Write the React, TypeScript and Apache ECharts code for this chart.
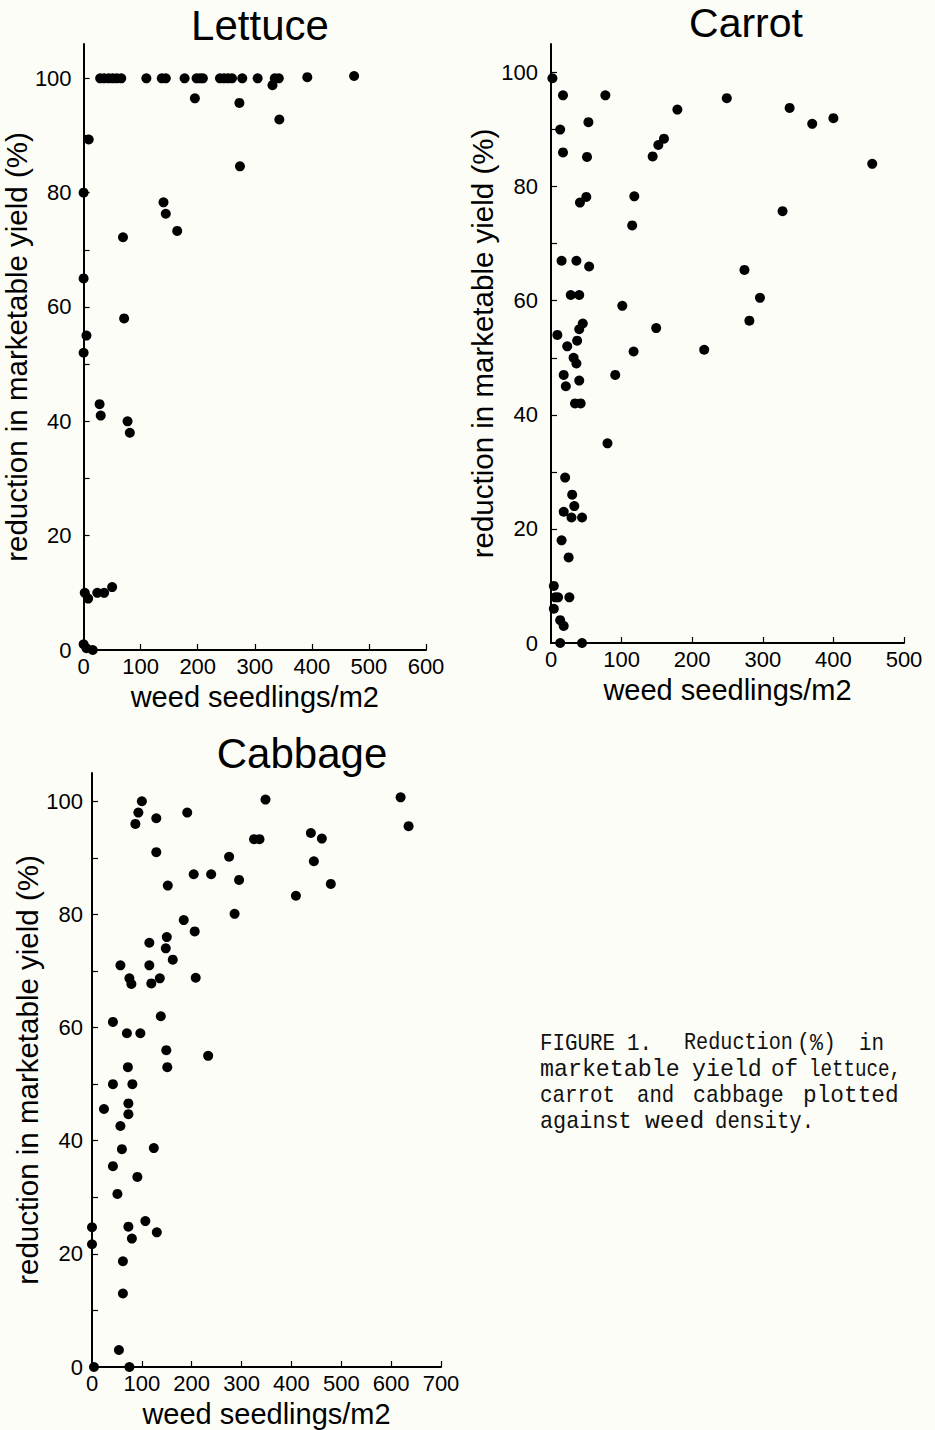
import React, { useEffect, useRef } from "react";
import * as echarts from "echarts";

// ---------- data ----------
const lettucePoints: [number, number][] = [
  [29, 100], [36, 100], [44, 100], [51, 100], [58, 100], [66, 100], [110, 100], [137, 100], [144, 100],
  [177, 100], [198, 100], [204, 100], [209, 100], [239, 100], [246, 100], [253, 100], [260, 100],
  [278, 100], [305, 100], [335, 100], [342, 100], [392, 100.2], [474, 100.4],
  [331, 98.8], [195, 96.5], [273, 95.7], [343, 92.8], [274, 84.6], [9, 89.3], [0, 80], [140, 78.3],
  [144, 76.3], [164, 73.3], [69, 72.2], [0, 65], [71, 58], [5, 55], [0, 52], [28, 43], [30, 41],
  [77, 40], [81, 38], [2, 10], [8, 9], [24, 10], [36, 10], [50, 11], [0, 1], [5, 0.3], [16, 0],
];

const carrotPoints: [number, number][] = [
  [2, 99], [17, 96], [77, 96], [249, 95.5], [338, 93.8], [179, 93.5], [400, 92], [370, 91], [13, 90],
  [53, 91.3], [160, 88.4], [152, 87.3], [17, 86], [51, 85.2], [144, 85.3], [455, 84], [118, 78.3],
  [50, 78.2], [41, 77.2], [328, 75.7], [115, 73.2], [15, 67], [36, 67], [54, 66], [274, 65.4],
  [28, 61], [40, 61], [101, 59.1], [296, 60.5], [45, 56], [40, 55], [149, 55.2], [281, 56.5], [9, 54],
  [37, 53], [23, 52], [117, 51.1], [217, 51.4], [32, 50], [36, 49], [18, 47], [91, 47], [40, 46],
  [21, 45], [34, 42], [42, 42], [80, 35], [20, 29], [30, 26], [33, 24], [18, 23], [29, 22], [44, 22],
  [15, 18], [25, 15], [4, 10], [6, 8], [10, 8], [26, 8], [4, 6], [13, 4], [18, 3], [13, 0], [44, 0],
];

const cabbagePoints: [number, number][] = [
  [100, 100], [93, 98], [87, 96], [129, 97], [191, 98], [348, 100.3], [325, 93.3], [336, 93.3],
  [129, 91], [275, 90.2], [204, 87.1], [239, 87.1], [295, 86.1], [152, 85.1], [286, 80.1], [184, 79],
  [206, 77], [150, 76], [115, 75], [148, 74], [162, 72], [57, 71], [115, 71], [75, 68.7], [79, 67.7],
  [136, 68.7], [119, 67.8], [208, 68.8], [138, 62], [42, 61], [70, 59], [97, 59], [149, 56], [233, 55],
  [72, 53], [151, 53], [42, 50], [81, 50], [73, 46.6], [24, 45.6], [73, 44.7], [57, 42.6], [60, 38.5],
  [124, 38.7], [42, 35.5], [91, 33.6], [51, 30.6], [0, 24.7], [73, 24.8], [107, 25.8], [130, 23.8],
  [80, 22.7], [0, 21.7], [62, 18.7], [62, 13], [54, 3], [4, 0], [75, 0], [619, 100.7], [635, 95.6],
  [439, 94.4], [461, 93.4], [445, 89.4], [479, 85.4], [409, 83.3],
];

const yTickLabels = [0, 20, 40, 60, 80, 100];
const yTickMarks = [10, 20, 30, 40, 50, 60, 70, 80, 90, 100];
const lettuceXLabels = [0, 100, 200, 300, 400, 500, 600];
const carrotXLabels = [0, 100, 200, 300, 400, 500];
const cabbageXLabels = [0, 100, 200, 300, 400, 500, 600, 700];
const titles = ["Lettuce", "Carrot", "Cabbage"];
const yName = "reduction in marketable yield (%)";
const xName = "weed seedlings/m2";
// word, line index
const captionWords: [string, number][] = [
  ["FIGURE", 0], ["1.", 0], ["Reduction", 0], ["(%)", 0], ["in", 0],
  ["marketable", 1], ["yield", 1], ["of", 1], ["lettuce,", 1],
  ["carrot", 2], ["and", 2], ["cabbage", 2], ["plotted", 2],
  ["against", 3], ["weed", 3], ["density.", 3],
];
// layout of the caption words (x position, horizontal scale)
const captionLayout: [number, number][] = [
  [540, 0.87], [627, 0.87], [684, 0.84], [797, 0.9], [859, 0.87],
  [540, 0.97], [692, 0.97], [771, 0.94], [809, 0.8],
  [540, 0.87], [637, 0.86], [693, 0.9], [803, 0.95],
  [540, 0.91], [645, 1.03], [715, 0.86],
];

const FONT = '"Liberation Sans", Arial, Helvetica, sans-serif';

function xAxisCfg(gridIndex: number, max: number, labels: number[]) {
  return {
    type: "value",
    gridIndex,
    min: 0,
    max,
    axisLine: { show: true, onZero: false, lineStyle: { color: "#000", width: 2 } },
    axisTick: {
      show: true,
      inside: true,
      length: 6,
      customValues: labels.filter((v) => v > 0),
      lineStyle: { color: "#000", width: 1.2 },
    },
    axisLabel: { customValues: labels, color: "#000", fontSize: 22, fontFamily: FONT, margin: 5 },
    splitLine: { show: false },
    name: xName,
    nameLocation: "middle",
    nameGap: 32,
    nameTextStyle: { color: "#000", fontSize: 29, fontFamily: FONT },
  };
}

function yAxisCfg(gridIndex: number, max: number, margin: number, gap: number) {
  return {
    type: "value",
    gridIndex,
    min: 0,
    max,
    axisLine: { show: true, onZero: false, lineStyle: { color: "#000", width: 2 } },
    axisTick: {
      show: true,
      inside: true,
      length: 6,
      customValues: yTickMarks,
      lineStyle: { color: "#000", width: 1.2 },
    },
    axisLabel: { customValues: yTickLabels, color: "#000", fontSize: 22, fontFamily: FONT, margin },
    splitLine: { show: false },
    name: yName,
    nameLocation: "middle",
    nameGap: gap,
    nameTextStyle: { color: "#000", fontSize: 29.5, fontFamily: FONT },
  };
}

export default function App() {
  const ref = useRef<HTMLDivElement>(null);
  useEffect(() => {
    if (!ref.current) return;
    const chart = echarts.init(ref.current, undefined, { renderer: "svg" });
    const titlePos: [number, number][] = [
      [260, 25],
      [746, 23],
      [302, 753],
    ];
    const graphic: any[] = titles.map((t, i) => ({
      type: "text",
      x: titlePos[i][0],
      y: titlePos[i][1],
      style: {
        text: t,
        fontSize: i === 1 ? 41 : 42,
        fontFamily: FONT,
        fill: "#000",
        textAlign: "center",
        textVerticalAlign: "middle",
        align: "center",
        verticalAlign: "middle",
      },
    }));
    const lineY = [1043.5, 1069.5, 1095.5, 1121.5];
    captionWords.forEach(([w, line], i) => {
      graphic.push({
        type: "text",
        x: captionLayout[i][0],
        y: lineY[line],
        scaleX: captionLayout[i][1],
        style: {
          text: w,
          fontSize: 24,
          fontFamily: '"Liberation Mono", "DejaVu Sans Mono", monospace',
          fill: "#111",
          textAlign: "left",
          textVerticalAlign: "middle",
          align: "left",
          verticalAlign: "middle",
        },
      });
    });
    const scatter = (pts: [number, number][], idx: number) => ({
      type: "scatter",
      xAxisIndex: idx,
      yAxisIndex: idx,
      data: pts,
      symbol: "circle",
      symbolSize: 10,
      clip: false,
      itemStyle: { color: "#000", opacity: 1 },
    });
    chart.setOption({
      animation: false,
      backgroundColor: "#fdfdf8",
      grid: [
        { left: 83, top: 44, width: 343, height: 606 },
        { left: 551, top: 44, width: 353, height: 599 },
        { left: 92, top: 773, width: 349, height: 594 },
      ],
      xAxis: [
        xAxisCfg(0, 600, lettuceXLabels),
        xAxisCfg(1, 500, carrotXLabels),
        xAxisCfg(2, 700, cabbageXLabels),
      ],
      yAxis: [yAxisCfg(0, 106, 12, 40), yAxisCfg(1, 105, 13, 32), yAxisCfg(2, 105, 9, 42)],
      series: [scatter(lettucePoints, 0), scatter(carrotPoints, 1), scatter(cabbagePoints, 2)],
      graphic,
    });
    return () => chart.dispose();
  }, []);
  return (
    <div
      ref={ref}
      style={{ position: "absolute", left: 0, top: 0, width: 935, height: 1430, background: "#fdfdf8" }}
    />
  );
}
